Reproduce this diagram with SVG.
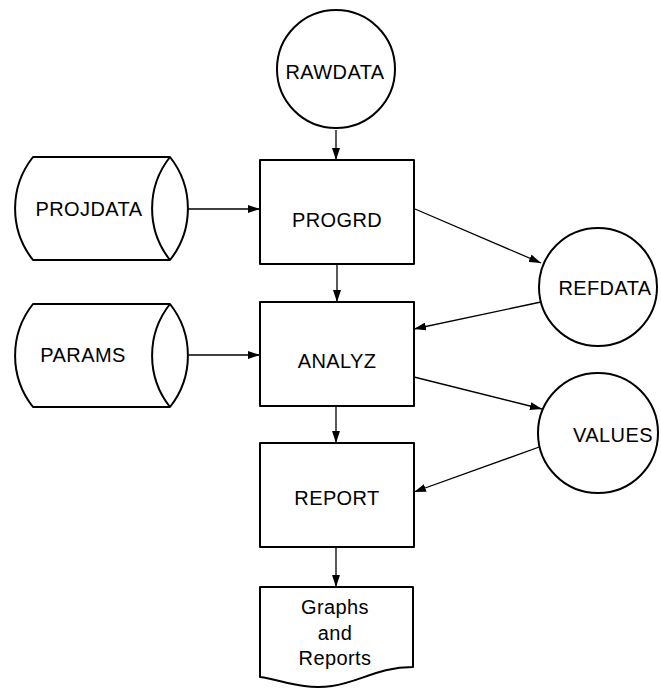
<svg xmlns="http://www.w3.org/2000/svg" width="661" height="688" viewBox="0 0 661 688">
<defs>
<marker id="ah" viewBox="0 0 12 8" refX="12" refY="4" markerWidth="12" markerHeight="8" markerUnits="userSpaceOnUse" orient="auto">
<path d="M0,0 L12,4 L0,8 Z" fill="#000"/>
</marker>
<style>
.s{fill:#fff;stroke:#000;stroke-width:2;stroke-linejoin:round}
.c{fill:none;stroke:#000;stroke-width:1.3;marker-end:url(#ah)}
text{font-family:"Liberation Sans",Arial,sans-serif;font-size:20px;letter-spacing:0.4px;fill:#000;text-anchor:middle;dominant-baseline:central}
</style>
</defs>
<rect width="661" height="688" fill="#fff"/>
<g id="connectors">
<line class="c" x1="336" y1="130" x2="336" y2="160"/>
<line class="c" x1="188" y1="209" x2="260" y2="209"/>
<line class="c" x1="337" y1="264" x2="337" y2="302"/>
<line class="c" x1="189" y1="355" x2="260" y2="355"/>
<line class="c" x1="336" y1="406" x2="336" y2="443"/>
<line class="c" x1="336" y1="547" x2="336" y2="587"/>
<line class="c" x1="415" y1="209" x2="541" y2="263"/>
<line class="c" x1="541" y1="302" x2="414" y2="329"/>
<line class="c" x1="414" y1="377" x2="542" y2="409"/>
<line class="c" x1="542" y1="446" x2="414" y2="492"/>
</g>
<g id="rawdata">
<circle class="s" cx="336" cy="69" r="59"/>
<text x="335" y="72">RAWDATA</text>
</g>
<g id="projdata">
<path class="s" d="M33,157 L170,157 A83,83 0 0 1 170,260 L33,260 A83,83 0 0 1 33,157 Z"/>
<path class="s" fill="none" d="M170,157 A83,83 0 0 0 170,260"/>
<text x="89" y="209">PROJDATA</text>
</g>
<g id="progrd">
<rect class="s" x="260" y="160" width="154" height="104"/>
<text x="337" y="220">PROGRD</text>
</g>
<g id="refdata">
<circle class="s" cx="598" cy="287" r="59"/>
<text x="605" y="288">REFDATA</text>
</g>
<g id="params">
<path class="s" d="M33,304 L170,304 A83,83 0 0 1 170,407 L33,407 A83,83 0 0 1 33,304 Z"/>
<path class="s" fill="none" d="M170,304 A83,83 0 0 0 170,407"/>
<text x="83" y="355">PARAMS</text>
</g>
<g id="analyz">
<rect class="s" x="260" y="302" width="154" height="104"/>
<text x="337" y="361">ANALYZ</text>
</g>
<g id="values">
<circle class="s" cx="598" cy="433" r="60"/>
<text x="613" y="435">VALUES</text>
</g>
<g id="report">
<rect class="s" x="260" y="443" width="154" height="104"/>
<text x="337" y="498">REPORT</text>
</g>
<g id="graphs">
<path class="s" d="M260,587 H413 V667 C378,667 360,682 332,686 C302,690 282,680 260,677 Z"/>
<text x="335" y="607">Graphs</text>
<text x="335" y="633">and</text>
<text x="335" y="658">Reports</text>
</g>
</svg>
